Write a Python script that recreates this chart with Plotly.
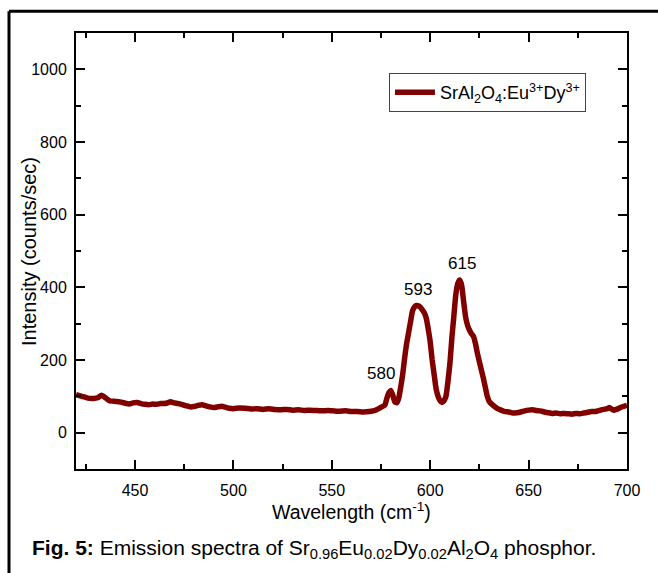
import plotly.graph_objects as go

wavelength = [420, 423, 426, 429, 431, 433, 435, 437, 440, 443, 445, 447, 449, 451, 453, 455, 457, 459,
              461, 463, 466, 468, 470, 472, 474, 476, 478, 480, 482, 484, 486, 488, 490, 492, 494, 496,
              498, 500, 503, 506, 509, 512, 515, 518, 521, 524, 527, 530, 533, 536, 539, 542, 545, 548,
              551, 554, 557, 560, 563, 566, 569, 571, 573, 575, 577, 578, 579, 580, 581, 582, 583, 584,
              585, 586, 587, 588, 589, 590, 591, 592, 593, 594, 595, 596, 597, 598, 599, 600, 601, 602,
              603, 604, 605, 606, 607, 608, 609, 610, 611, 612, 613, 614, 615, 616, 617, 618, 619, 620,
              621, 622, 623, 624, 625, 626, 627, 628, 629, 630, 632, 634, 636, 638, 640, 642, 644, 646,
              648, 650, 652, 654, 656, 658, 660, 662, 664, 666, 668, 670, 672, 674, 676, 678, 680, 682,
              684, 686, 688, 690, 691, 693, 695, 697, 700]
intensity = [105, 100, 95, 94, 96, 103, 96, 88, 86, 84, 81, 79, 82, 83, 80, 78, 77, 79,
             78, 80, 81, 85, 82, 80, 77, 74, 71, 72, 75, 77, 74, 71, 69, 71, 73, 70,
             67, 66, 68, 67, 65, 66, 64, 66, 64, 63, 64, 62, 63, 61, 62, 61, 60, 61,
             60, 59, 60, 58, 58, 57, 58, 60, 64, 70, 76, 95, 110, 116, 103, 85, 82, 95,
             125, 160, 205, 245, 275, 305, 335, 346, 350, 349, 345, 338, 330, 315, 285, 250, 200, 160,
             120, 100, 88, 83, 88, 100, 140, 190, 260, 320, 380, 410, 420, 405, 360, 318, 295, 282,
             272, 265, 245, 218, 195, 172, 150, 125, 100, 86, 75, 67, 62, 58, 57, 54, 55, 57,
             60, 62, 63, 61, 60, 57, 55, 53, 54, 52, 53, 52, 51, 53, 52, 54, 56, 58,
             58, 61, 64, 66, 69, 62, 65, 70, 75]

peak_x = [575, 594, 616]
peak_y = [163, 395, 466]
peak_labels = ["580", "593", "615"]

x_ticks = [450, 500, 550, 600, 650, 700]
y_ticks = [0, 200, 400, 600, 800, 1000]

FONT = "Liberation Sans, Arial, sans-serif"
RED = "#800000"

fig = go.Figure()
fig.add_trace(go.Scatter(
    x=wavelength, y=intensity, mode="lines",
    line=dict(color=RED, width=5.5, shape="spline", smoothing=0.4),
    name="SrAl<sub>2</sub>O<sub>4</sub>:Eu<sup>3+</sup>Dy<sup>3+</sup>",
    showlegend=True,
))

for px, py, lab in zip(peak_x, peak_y, peak_labels):
    fig.add_annotation(x=px, y=py, text=lab, showarrow=False,
                       font=dict(family=FONT, size=17, color="black"),
                       xanchor="center", yanchor="middle")

axis_common = dict(
    showline=True, linecolor="black", linewidth=2, mirror="allticks",
    ticks="inside", ticklen=9, tickwidth=2, tickcolor="black",
    showgrid=False, zeroline=False,
    tickfont=dict(family=FONT, size=16, color="black"),
)

fig.update_xaxes(range=[420, 700], tickvals=x_ticks,
                 minor=dict(ticks="inside", ticklen=5, tickwidth=2, tickcolor="black", dtick=25, tick0=0),
                 ticklabelstandoff=6, **axis_common)
fig.update_yaxes(range=[-100, 1100], tickvals=y_ticks,
                 minor=dict(ticks="inside", ticklen=5, tickwidth=2, tickcolor="black", dtick=100, tick0=0),
                 ticklabelstandoff=4, **axis_common)

# axis titles
fig.add_annotation(xref="paper", yref="paper", x=0.5, y=-0.0963,
                   text="Wavelength (cm<sup>-1</sup>)", showarrow=False,
                   font=dict(family=FONT, size=19.5, color="black"),
                   xanchor="center", yanchor="middle")
fig.add_annotation(xref="paper", yref="paper", x=-0.0853, y=0.5,
                   text="Intensity (counts/sec)", showarrow=False, textangle=-90,
                   font=dict(family=FONT, size=20, color="black"),
                   xanchor="center", yanchor="middle")
# caption
fig.add_annotation(xref="paper", yref="paper", x=-0.0835, y=-0.1835,
                   text="<b>Fig. 5:</b> Emission spectra of Sr<sub>0.96</sub>Eu<sub>0.02</sub>Dy<sub>0.02</sub>Al<sub>2</sub>O<sub>4</sub> phosphor.",
                   showarrow=False, font=dict(family=FONT, size=21, color="black"),
                   xanchor="left", yanchor="middle")

# outer frame
fig.add_shape(type="line", xref="paper", yref="paper",
              x0=-0.1216, x1=-0.1216, y0=-0.25, y1=1.05,
              line=dict(color="black", width=3))
fig.add_shape(type="line", xref="paper", yref="paper",
              x0=-0.1216, x1=1.07, y0=1.05, y1=1.05,
              line=dict(color="black", width=3))

fig.update_layout(
    width=658, height=573,
    margin=dict(l=76, r=31, t=33, b=104),
    paper_bgcolor="white", plot_bgcolor="white",
    font=dict(family=FONT, color="black"),
    legend=dict(x=0.568, y=0.908, xanchor="left", yanchor="top",
                bgcolor="white", bordercolor="#444", borderwidth=1,
                font=dict(family=FONT, size=18, color="black"),
                itemwidth=40, tracegroupgap=0),
)

fig.write_html("out.html")
